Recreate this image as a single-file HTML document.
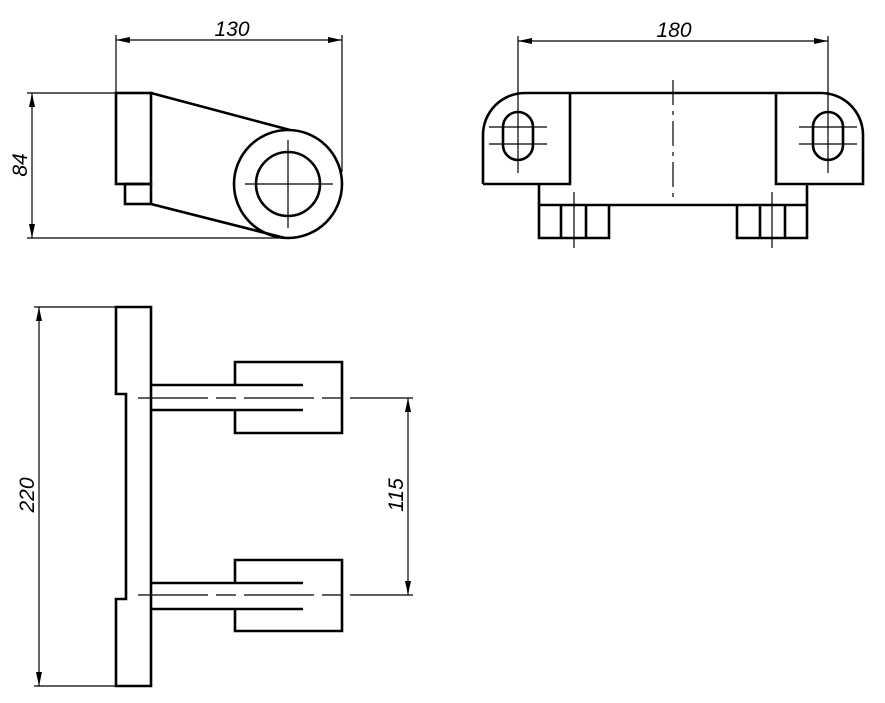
<!DOCTYPE html>
<html><head><style>body{margin:0;background:#fff}svg{display:block}text{font-family:"Liberation Sans",sans-serif;font-style:italic;font-size:21px;fill:#000}</style></head><body>
<svg width="885" height="703" viewBox="0 0 885 703" xmlns="http://www.w3.org/2000/svg">
<defs><marker id="a" markerWidth="14" markerHeight="6" refX="14" refY="3" orient="auto" markerUnits="userSpaceOnUse"><path d="M0,0 L14,3 L0,6 Z" fill="#000"/></marker></defs>
<g stroke="#000" fill="none">
<!-- thin dims -->
<g stroke-width="1.2">
<line x1="116" y1="35" x2="116" y2="93"/><line x1="342" y1="35" x2="342" y2="172"/>
<line x1="130" y1="40" x2="116" y2="40" marker-end="url(#a)"/><line x1="130" y1="40" x2="342" y2="40" marker-end="url(#a)"/>
<line x1="27" y1="93" x2="116" y2="93"/><line x1="27" y1="238" x2="285" y2="238"/>
<line x1="32" y1="160" x2="32" y2="93" marker-end="url(#a)"/><line x1="32" y1="160" x2="32" y2="238" marker-end="url(#a)"/>
<line x1="245" y1="184" x2="333" y2="184"/><line x1="288" y1="140" x2="288" y2="228"/>
<line x1="518" y1="36" x2="518" y2="173"/><line x1="828" y1="36" x2="828" y2="173"/>
<line x1="670" y1="41" x2="518" y2="41" marker-end="url(#a)"/><line x1="670" y1="41" x2="828" y2="41" marker-end="url(#a)"/>
<line x1="489" y1="127" x2="547" y2="127"/><line x1="489" y1="144" x2="547" y2="144"/>
<line x1="799" y1="127" x2="857" y2="127"/><line x1="799" y1="144" x2="857" y2="144"/>
<line x1="574" y1="192" x2="574" y2="248"/><line x1="772" y1="192" x2="772" y2="248"/>
<line x1="673" y1="80" x2="673" y2="197" stroke-dasharray="25,6,4,6"/>
<line x1="34" y1="307" x2="116" y2="307"/><line x1="34" y1="686" x2="116" y2="686"/>
<line x1="39" y1="490" x2="39" y2="307" marker-end="url(#a)"/><line x1="39" y1="490" x2="39" y2="686" marker-end="url(#a)"/>
<line x1="138" y1="398" x2="413" y2="398" stroke-dasharray="70,8,20,8"/><line x1="138" y1="595" x2="413" y2="595" stroke-dasharray="70,8,20,8"/>
<line x1="408" y1="490" x2="408" y2="398" marker-end="url(#a)"/><line x1="408" y1="490" x2="408" y2="595" marker-end="url(#a)"/>
</g>
<g stroke-width="2.6">
<rect x="116" y="93" width="35" height="91"/><rect x="125" y="184" width="26" height="20"/>
<line x1="151" y1="93" x2="290" y2="130"/><line x1="151" y1="204" x2="285" y2="238"/>
<circle cx="288" cy="184" r="54"/><circle cx="288" cy="184" r="32"/>
<path d="M483,184 L483,135 A42,42 0 0 1 525,93 L821,93 A42,42 0 0 1 863,135 L863,184 L776,184 L776,93 M570,93 L570,184 L483,184"/>
<path d="M539,184 L539,238 L609,238 L609,205 M807,184 L807,238 L737,238 L737,205 M539,205 L807,205"/>
<line x1="561" y1="205" x2="561" y2="238"/><line x1="586" y1="205" x2="586" y2="238"/>
<line x1="760" y1="205" x2="760" y2="238"/><line x1="785" y1="205" x2="785" y2="238"/>
<rect x="503" y="112" width="30" height="48" rx="15"/><rect x="813" y="112" width="30" height="48" rx="15"/>
<path d="M116,307 L151,307 L151,686 L116,686 L116,599 L126,599 L126,394 L116,394 Z"/>
<path d="M235,385 L235,362 L342,362 L342,433 L235,433 L235,410"/>
<line x1="151" y1="385" x2="303" y2="385"/><line x1="151" y1="410" x2="303" y2="410"/>
<path d="M235,583 L235,560 L342,560 L342,631 L235,631 L235,609"/>
<line x1="151" y1="583" x2="303" y2="583"/><line x1="151" y1="609" x2="303" y2="609"/>
</g>
</g>
<text x="232" y="36" text-anchor="middle">130</text>
<text x="674" y="37" text-anchor="middle">180</text>
<text transform="translate(27,165) rotate(-90)" text-anchor="middle">84</text>
<text transform="translate(34,495) rotate(-90)" text-anchor="middle">220</text>
<text transform="translate(403,495) rotate(-90)" text-anchor="middle">115</text>
</svg>
</body></html>
